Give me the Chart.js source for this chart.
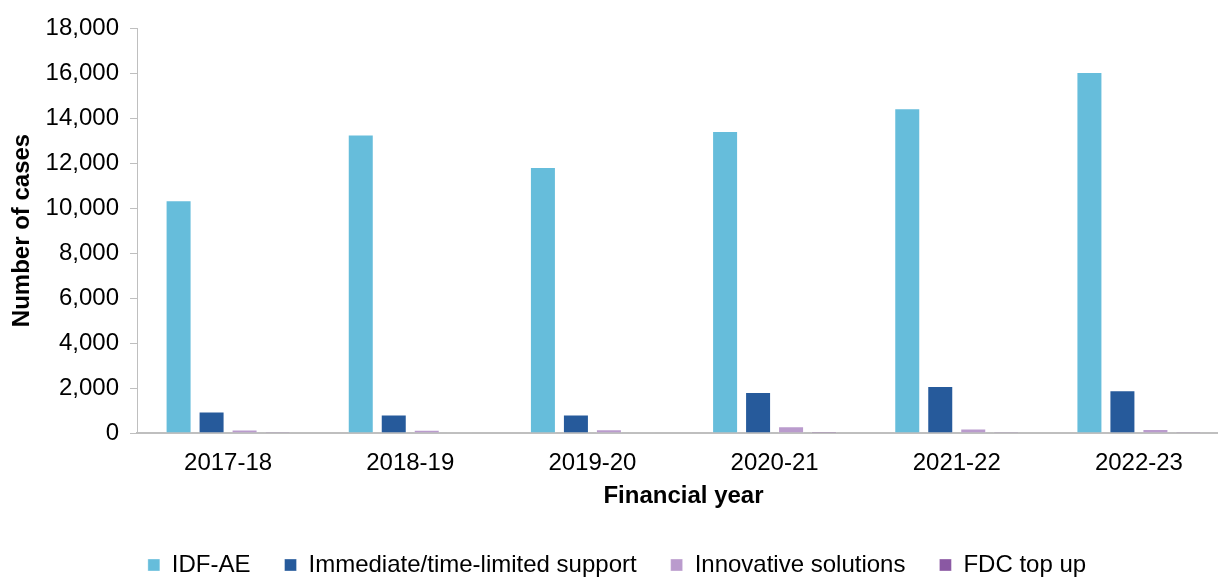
<!DOCTYPE html>
<html>
<head>
<meta charset="utf-8">
<script src="https://cdn.jsdelivr.net/npm/chart.js@4/dist/chart.umd.min.js"></script>
<style>
  html, body { margin: 0; padding: 0; background: #fff; overflow: hidden; }
</style>
</head>
<body>
<canvas id="casesChart" width="1230" height="577"></canvas>
<script>
/* cases by financial year */

const years = ['2017-18', '2018-19', '2019-20', '2020-21', '2021-22', '2022-23'];
const idfAe = [10350, 13270, 11820, 13420, 14430, 16050];
const immediateSupport = [960, 820, 820, 1820, 2090, 1900];
const innovativeSolutions = [160, 150, 170, 300, 200, 180];
const fdcTopUp = [40, 30, 30, 60, 50, 40];
const yTicks = [0, 2000, 4000, 6000, 8000, 10000, 12000, 14000, 16000, 18000];

const FONT = 'Liberation Sans, Arial, sans-serif';

// legend keeps wide gaps between items but only one short row of height
const legendHeight = {
  id: 'legendHeight',
  beforeLayout(chart) {
    const legend = chart.legend;
    if (!legend || legend.fitPatched) return;
    const fit = legend.fit.bind(legend);
    legend.fit = function () {
      fit();
      this.height = 58;
    };
    legend.fitPatched = true;
  }
};

class CasesChart {
  constructor(id) {
    this.id = id;
    this.createChart();
  }

  dataset(label, values, color) {
    return {
      label: label,
      data: values,
      backgroundColor: color,
      borderColor: 'rgba(255, 255, 255, 0.35)',
      borderWidth: 1,
      categoryPercentage: 0.7245,
      barPercentage: 0.788,
    };
  }

  createData() {
    return {
      labels: years,
      datasets: [
        this.dataset('IDF-AE', idfAe, '#66bddb'),
        this.dataset('Immediate/time-limited support', immediateSupport, '#265a9b'),
        this.dataset('Innovative solutions', innovativeSolutions, '#ba9bcd'),
        this.dataset('FDC top up', fdcTopUp, '#8a58a3'),
      ]
    };
  }

  createConfig(inputData) {
    return {
      type: 'bar',
      data: inputData,
      options: {
        responsive: false,
        animation: false,
        layout: {
          padding: { top: 28, left: 4, right: 0, bottom: 0 }
        },
        scales: {
          x: {
            grid: { display: false, drawTicks: false },
            border: { display: true, color: '#bfbfbf', width: 2 },
            ticks: {
              color: '#000',
              padding: 16,
              font: { family: FONT, size: 24 }
            },
            title: {
              display: true,
              text: 'Financial year',
              color: '#000',
              padding: { top: 0, bottom: 8 },
              font: { family: FONT, size: 24, weight: 'bold' }
            },
            afterFit: (scale) => { scale.height = 86; }
          },
          y: {
            min: 0,
            max: 18000,
            afterBuildTicks: (scale) => {
              scale.ticks = yTicks.map(v => ({ value: v }));
            },
            grid: {
              display: true,
              drawOnChartArea: false,
              drawTicks: true,
              tickLength: 7,
              color: '#bfbfbf'
            },
            border: { display: true, color: '#bfbfbf', width: 1 },
            ticks: {
              color: '#000',
              padding: 11,
              font: { family: FONT, size: 24 },
              callback: (value) => Number(value).toLocaleString('en-US')
            },
            title: {
              display: true,
              text: 'Number of cases',
              color: '#000',
              font: { family: FONT, size: 24, weight: 'bold' }
            },
            afterFit: (scale) => { scale.width = 133; }
          }
        },
        plugins: {
          tooltip: { enabled: false },
          legend: {
            position: 'bottom',
            labels: {
              boxWidth: 12,
              boxHeight: 12,
              padding: 34,
              color: '#000',
              font: { family: FONT, size: 24 }
            }
          }
        }
      },
      plugins: [legendHeight]
    };
  }

  createChart() {
    const data = this.createData();
    const config = this.createConfig(data);
    const ctx = document.getElementById(this.id).getContext('2d');
    new Chart(ctx, config);
  }
}

const chart1 = new CasesChart('casesChart');
</script>
</body>
</html>
